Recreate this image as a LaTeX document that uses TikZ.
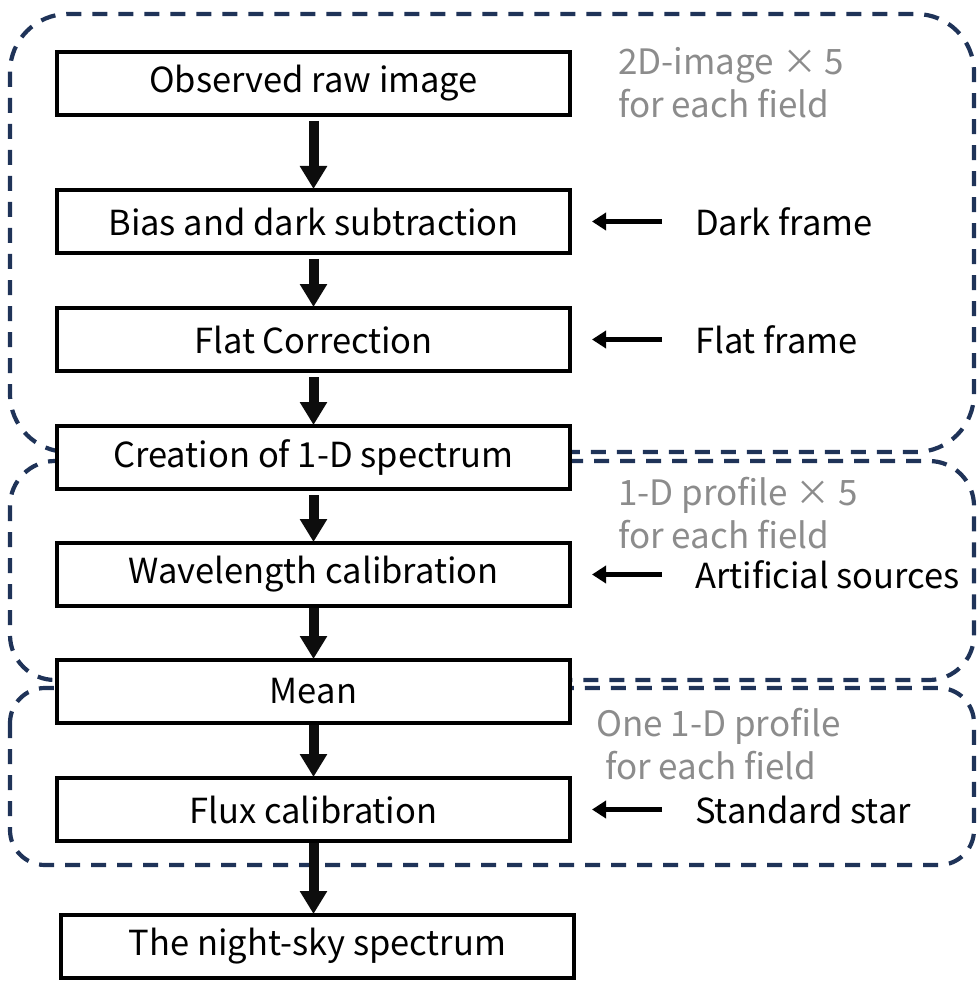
\documentclass[tikz,border=0pt]{standalone}
\usepackage{fontspec}
\setmainfont{Noto Sans CJK JP}
\usetikzlibrary{arrows.meta}
\definecolor{navy}{HTML}{1F3358}
\definecolor{graytxt}{HTML}{8C8C8C}
\begin{document}
\begin{tikzpicture}[x=1pt,y=-1pt,
  region/.style={draw=navy, line width=4.2pt, dash pattern=on 15pt off 11pt},
  stepbox/.style={draw=black, fill=white, line width=4pt, minimum width=513pt, minimum height=63pt, inner sep=0pt, font=\fontsize{34.5}{40}\selectfont},
  bigarrow/.style={draw=black!95, line width=10pt, -{Triangle[width=26pt,length=23pt]}},
  smallarrow/.style={draw=black, line width=5pt, -{Triangle[width=17pt,length=14pt]}},
  sidelabel/.style={anchor=west, inner sep=0pt, font=\fontsize{34.5}{40}\selectfont},
  note/.style={anchor=west, inner sep=0pt, align=left, text=graytxt, font=\fontsize{35}{43}\selectfont}
]
\useasboundingbox (0,0) rectangle (977,981);
% dashed regions
\draw[region, rounded corners=58pt] (10,14) rectangle (974,452);
\draw[region, rounded corners=45pt] (10,461) rectangle (974,680);
\draw[region, rounded corners=35pt] (10,688) rectangle (974,865);
% boxes
\node[stepbox] (b1) at (313.5,83.5) {Observed raw image};
\node[stepbox] (b2) at (313.5,221.5) {Bias and dark subtraction};
\node[stepbox] (b3) at (313.5,339.5) {Flat Correction};
\node[stepbox] (b4) at (313.5,457.5) {Creation of 1-D spectrum};
\node[stepbox] (b5) at (313.5,574.5) {Wavelength calibration};
\node[stepbox] (b6) at (313.5,691.5) {Mean};
\node[stepbox] (b7) at (313.5,809.5) {Flux calibration};
\node[stepbox] (b8) at (317.5,946.5) {The night-sky spectrum};
% main arrows
\draw[bigarrow, shorten <=4pt, shorten >=-1pt] (b1.south) -- (b2.north);
\draw[bigarrow, shorten <=4pt, shorten >=-1pt] (b2.south) -- (b3.north);
\draw[bigarrow, shorten <=4pt, shorten >=-1pt] (b3.south) -- (b4.north);
\draw[bigarrow, shorten <=4pt, shorten >=-1pt] (b4.south) -- (b5.north);
\draw[bigarrow, shorten <=0pt, shorten >=-1pt] (b5.south) -- (b6.north);
\draw[bigarrow, shorten <=0pt, shorten >=-1pt] (b6.south) -- (b7.north);
\draw[bigarrow, shorten <=0pt, shorten >=-1pt] (b7.south) -- (b7.south |- b8.north);
% side inputs
\node[sidelabel] (dark) at (695,221.5) {Dark frame};
\node[sidelabel] (flat) at (695,339.5) {Flat frame};
\node[sidelabel] (arti) at (695,574.5) {Artificial sources};
\node[sidelabel] (std) at (695,809.5) {Standard star};
\draw[smallarrow, shorten <=33pt, shorten >=20pt] (dark.west) -- (b2.east);
\draw[smallarrow, shorten <=33pt, shorten >=20pt] (flat.west) -- (b3.east);
\draw[smallarrow, shorten <=33pt, shorten >=20pt] (arti.west) -- (b5.east);
\draw[smallarrow, shorten <=33pt, shorten >=20pt] (std.west) -- (b7.east);
% notes
\node[note] (n1) at (618,83) {2D-image × 5\\for each field};
\node[note] (n2) at (618,513) {1-D profile × 5\\for each field};
\node[note] (n3) at (596,744) {One 1-D profile\\\hspace*{9pt}for each field};
\end{tikzpicture}
\end{document}
